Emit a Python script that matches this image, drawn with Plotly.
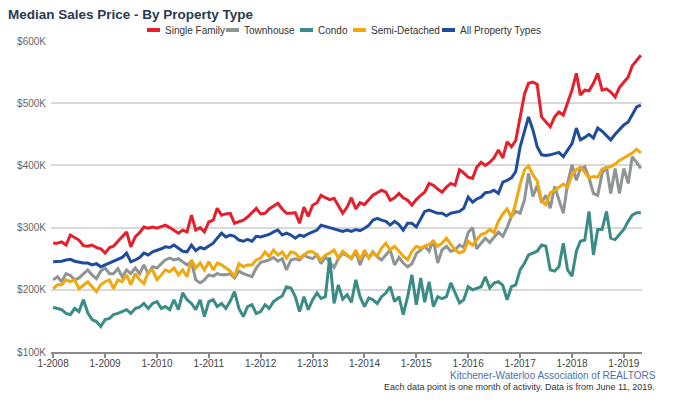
import plotly.graph_objects as go
import pandas as pd

# Monthly data, Jan 2008 - May 2019 (values in $K)
months = pd.date_range("2008-01-01", "2019-05-01", freq="MS")

single_family = [
    275, 275, 277, 272, 288, 284, 280, 271, 270, 272, 268, 266,
    259, 268, 270, 278, 285, 293, 269, 285, 292, 301, 299, 301,
    299, 302, 304, 300, 296, 291, 296, 293, 320, 296, 300, 293,
    309, 312, 331, 320, 322, 323, 307, 310, 312, 317, 325, 331,
    322, 323, 330, 335, 339, 330, 323, 323, 324, 307, 333, 318,
    336, 340, 352, 348, 345, 347, 336, 323, 333, 348, 330,
    340, 337, 345, 352, 356, 360, 357, 344, 348, 355, 348, 344,
    336, 345, 352, 357, 371, 368, 362, 357, 365, 371, 368, 393,
    388, 381, 379, 397, 405, 400, 405, 412, 425, 412, 438, 430,
    440, 480, 515, 532, 534, 530, 478, 470, 462, 478, 486, 481,
    500, 521, 548, 513, 521, 520, 532, 548, 521, 523, 518, 510,
    525, 534, 542, 560, 569, 577,
]

townhouse = [
    216, 221, 213, 226, 223, 216, 219, 226, 232, 224, 218, 230,
    235, 226, 226, 234, 221, 232, 226, 235, 226, 240, 226, 237,
    235, 242, 248, 251, 248, 250, 245, 240, 245, 216, 211, 216,
    224, 222, 226, 224, 224, 226, 219, 230, 226, 224, 221, 235,
    244, 246, 248, 252, 246, 250, 232, 248, 250, 248, 256, 252,
    250, 256, 242, 253, 245, 236, 250, 259, 255, 250, 261,
    240, 258, 252, 261, 253, 248, 256, 264, 240, 252, 243, 237,
    242, 258, 264, 270, 262, 280, 243, 264, 270, 262, 264, 272,
    268, 292, 300, 266, 275, 283, 276, 285, 293, 286, 300, 318,
    326, 323, 345, 387, 350, 368, 340, 352, 331, 366, 344, 323,
    371, 401, 376, 395, 398, 380, 355, 352, 387, 398, 355, 395,
    355, 395, 371, 414, 405, 395,
]

condo = [
    172, 170, 168, 162, 160, 170, 165, 184, 163, 152, 149, 141,
    152, 154, 160, 162, 165, 168, 162, 170, 172, 178, 170, 178,
    181, 170, 173, 168, 184, 168, 195, 184, 178, 168, 184, 157,
    181, 184, 173, 178, 170, 182, 197, 170, 157, 173, 176, 162,
    165, 176, 170, 181, 186, 190, 205, 203, 189, 165, 189, 168,
    184, 195, 186, 189, 252, 178, 208, 185, 192, 180, 216,
    189, 173, 187, 184, 178, 189, 195, 205, 181, 189, 160, 189,
    224, 176, 219, 180, 213, 173, 189, 186, 189, 211, 195, 179,
    184, 205, 200, 202, 205, 221, 203, 211, 213, 207, 184, 205,
    208, 232, 243, 256, 259, 262, 272, 270, 232, 230, 237, 275,
    232, 222, 262, 278, 280, 326, 256, 297, 297, 326, 283, 281,
    289, 297, 310, 320, 324, 324,
]

semi_detached = [
    202, 208, 208, 216, 213, 216, 202, 208, 213, 205, 197, 208,
    213, 216, 202, 216, 213, 224, 208, 226, 216, 210, 229, 232,
    216, 224, 232, 229, 235, 224, 232, 221, 248, 235, 243, 232,
    245, 232, 243, 240, 235, 230, 221, 242, 237, 240, 240, 248,
    251, 261, 253, 264, 256, 261, 251, 261, 259, 251, 256, 261,
    261, 256, 248, 256, 259, 264, 251, 262, 256, 251, 264,
    248, 264, 251, 259, 254, 267, 275, 264, 270, 262, 254, 248,
    262, 270, 267, 270, 273, 278, 270, 275, 283, 273, 264, 259,
    262, 278, 272, 280, 289, 291, 297, 292, 310, 322, 330, 316,
    340, 370, 393, 399, 385, 375, 343, 337, 356, 360, 365, 370,
    365, 385, 393, 397, 389, 380, 382, 381, 394, 396, 398, 402,
    408, 412, 416, 420, 426, 420,
]

all_types = [
    245, 245, 246, 248, 249, 246, 244, 243, 243, 240, 242, 237,
    240, 243, 245, 248, 252, 259, 245, 248, 252, 259, 256, 261,
    263, 266, 269, 268, 272, 267, 262, 261, 272, 263, 268, 266,
    270, 275, 283, 291, 285, 288, 286, 280, 278, 281, 278, 286,
    285, 287, 289, 293, 296, 288, 291, 288, 283, 288, 286, 290,
    293, 296, 304, 302, 300, 299, 296, 294, 296, 294, 297,
    295, 299, 304, 312, 315, 312, 310, 304, 310, 305, 296, 307,
    307, 301, 315, 326, 328, 326, 323, 323, 319, 323, 324, 326,
    331, 349, 341, 346, 349, 356, 357, 360, 355, 373, 376, 380,
    390, 430, 455, 478, 457, 430, 417, 416, 417, 419, 421, 414,
    425, 435, 460, 441, 445, 450, 444, 460, 455, 448, 441, 450,
    458, 465, 470, 482, 494, 497,
]

series_names = ["Single Family", "Townhouse", "Condo", "Semi-Detached", "All Property Types"]
series_values = [single_family, townhouse, condo, semi_detached, all_types]
series_colors = ["#e4202c", "#8f9494", "#3b8c87", "#f1a70f", "#1f4c9c"]

y_ticks = [100, 200, 300, 400, 500, 600]
y_ticktext = ["$100K", "$200K", "$300K", "$400K", "$500K", "$600K"]
x_years = list(range(2008, 2020))
x_tickvals = [f"{y}-01-01" for y in x_years]
x_ticktext = [f"1-{y}" for y in x_years]

W, H = 679, 402
ML, MR, MT, MB = 51, 37, 41, 50
PW, PH = W - ML - MR, H - MT - MB

def px_x(px):
    return (px - ML) / PW

def px_y(py):
    return 1 - (py - MT) / PH

fig = go.Figure()
for name, vals, col in zip(series_names, series_values, series_colors):
    fig.add_trace(go.Scatter(
        x=months[:len(vals)], y=vals, name=name, mode="lines",
        line=dict(color=col, width=3, shape="linear"),
        hoverinfo="skip", showlegend=False,
    ))

FONT = "Liberation Sans, Arial, sans-serif"

# custom compact legend
legend_pos = [(147, 163), (226, 242), (300, 316), (353, 369), (442, 458)]
shapes = []
annotations = []
for (sx, tx), name, col in zip(legend_pos, series_names, series_colors):
    shapes.append(dict(type="line", xref="paper", yref="paper",
                       x0=px_x(sx), x1=px_x(sx + 13), y0=px_y(30), y1=px_y(30),
                       line=dict(color=col, width=4)))
    annotations.append(dict(xref="paper", yref="paper", x=px_x(tx), y=px_y(30.5),
                            xanchor="left", yanchor="middle", showarrow=False,
                            text=name, font=dict(family=FONT, size=10, color="#333333")))

annotations.append(dict(xref="paper", yref="paper", x=px_x(658), y=px_y(375),
                        xanchor="right", yanchor="middle", showarrow=False,
                        text="Kitchener-Waterloo Association of REALTORS",
                        font=dict(family=FONT, size=10, color="#4a70ad")))
annotations.append(dict(xref="paper", yref="paper", x=px_x(657), y=px_y(387),
                        xanchor="right", yanchor="middle", showarrow=False,
                        text="Each data point is one month of activity. Data is from June 11, 2019.",
                        font=dict(family=FONT, size=9, color="#333333")))

fig.update_layout(
    width=W, height=H,
    margin=dict(l=ML, r=MR, t=MT, b=MB, pad=0),
    paper_bgcolor="white", plot_bgcolor="white",
    font=dict(family=FONT),
    title=dict(text="<b>Median Sales Price - By Property Type</b>",
               x=8 / W, xref="container", xanchor="left",
               y=1 - 14 / H, yref="container", yanchor="middle",
               font=dict(family=FONT, size=13.5, color="#283a50")),
    xaxis=dict(type="date", range=["2007-12-17", "2019-05-09"],
               tickvals=x_tickvals, ticktext=x_ticktext,
               ticks="outside", ticklen=4, tickwidth=2, tickcolor="#8a8a8a",
               showline=True, linecolor="#8a8a8a", linewidth=2,
               showgrid=False, zeroline=False,
               ticklabelstandoff=-3,
               tickfont=dict(family=FONT, size=10, color="#444444")),
    yaxis=dict(range=[100, 600], tickvals=y_ticks, ticktext=y_ticktext,
               showgrid=True, gridcolor="#d9d9d9", gridwidth=2,
               zeroline=False, showline=False, ticks="",
               ticklabelstandoff=4,
               tickfont=dict(family=FONT, size=10, color="#666666")),
    shapes=shapes,
    annotations=annotations,
    showlegend=False,
)

fig.write_html("out.html")
